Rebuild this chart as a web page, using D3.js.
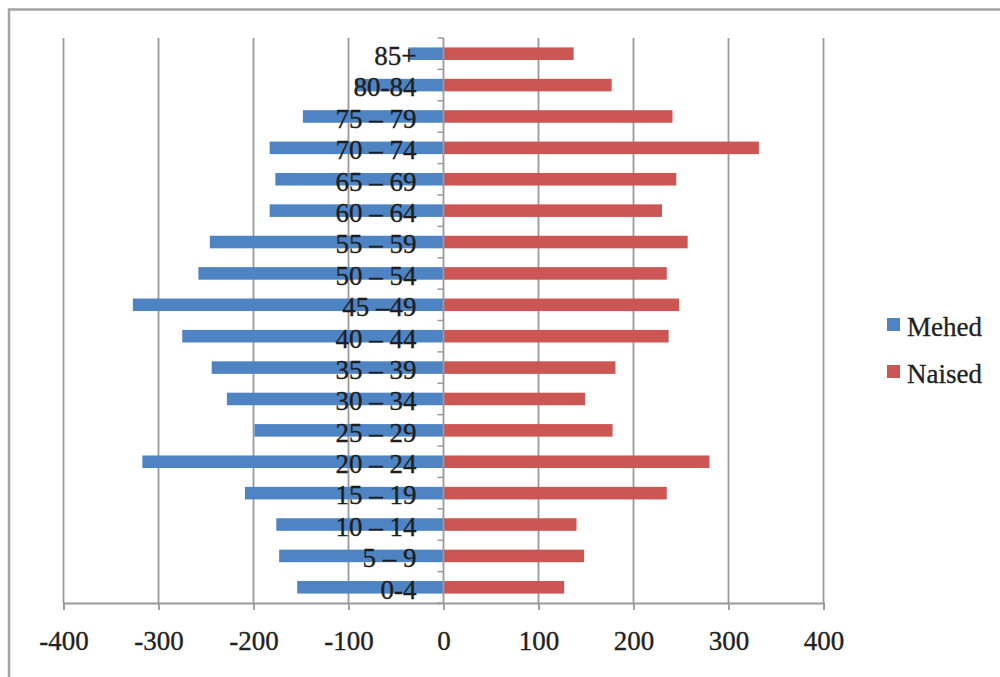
<!DOCTYPE html>
<html>
<head>
<meta charset="utf-8">
<script src="https://cdn.jsdelivr.net/npm/d3@7"></script>
<style>
  html, body { margin: 0; padding: 0; background: #fff; }
  svg { display: block; }
  text { font-family: "Liberation Serif", "DejaVu Serif", serif; }
</style>
</head>
<body>
<svg id="chart" width="1000" height="677"></svg>
<script>
// Age groups, bottom to top
const ageGroups = ["0-4", "5 – 9", "10 – 14", "15 – 19", "20 – 24", "25 – 29", "30 – 34",
  "35 – 39", "40 – 44", "45 –49", "50 – 54", "55 – 59", "60 – 64", "65 – 69",
  "70 – 74", "75 – 79", "80-84", "85+"];

// Men (plotted to the left as negative values)
const mehed = [-154, -173, -176, -209, -317, -199, -228, -244, -275, -327,
  -258, -246, -183, -177, -183, -148, -93, -37];

// Women
const naised = [127, 148, 140, 235, 280, 178, 149, 181, 237, 248,
  235, 257, 230, 245, 332, 241, 177, 137];

const xTicks = [-400, -300, -200, -100, 0, 100, 200, 300, 400];
const seriesNames = ["Mehed", "Naised"];
const seriesColors = ["#4f84c4", "#cb5653"];

const svg = d3.select("#chart");

// Outer frame
svg.append("rect")
  .attr("x", 9).attr("y", 9.5)
  .attr("width", 1200).attr("height", 900)
  .attr("fill", "none")
  .attr("stroke", "#a3a3a3")
  .attr("stroke-width", 2.5);

const plot = { left: 63.5, right: 823.5, top: 38, bottom: 603 };

const x = d3.scaleLinear().domain([-400, 400]).range([plot.left, plot.right]);
const y = d3.scaleBand()
  .domain(ageGroups.slice().reverse())
  .range([plot.top, plot.bottom])
  .paddingInner(0.6)
  .paddingOuter(0.3);

// Vertical gridlines
svg.append("g")
  .selectAll("line")
  .data(xTicks.filter(d => d !== 0))
  .join("line")
  .attr("x1", d => x(d)).attr("x2", d => x(d))
  .attr("y1", plot.top).attr("y2", plot.bottom)
  .attr("stroke", "#9a9a9a")
  .attr("stroke-width", 1.8);

// Bottom value axis (plain hyphen for negatives)
const xAxis = d3.axisBottom(x)
  .tickValues(xTicks)
  .tickSize(7)
  .tickPadding(21)
  .tickFormat(d => String(d));

const gx = svg.append("g")
  .attr("transform", `translate(0,${plot.bottom})`)
  .call(xAxis);
gx.select(".domain").attr("stroke", "#9a9a9a").attr("stroke-width", 1.8);
gx.selectAll(".tick line").attr("stroke", "#9a9a9a").attr("stroke-width", 1.8);
gx.selectAll(".tick text")
  .attr("fill", "#222")
  .attr("stroke", "#222")
  .attr("stroke-width", 0.35)
  .style("font-size", "27px")
  .style("font-family", "'Liberation Serif', serif");

// Bars
const rowData = ageGroups.map((g, i) => ({ g, m: mehed[i], n: naised[i] }));

svg.append("g")
  .selectAll("rect")
  .data(rowData)
  .join("rect")
  .attr("x", d => x(d.m))
  .attr("y", d => y(d.g))
  .attr("width", d => x(0) - x(d.m))
  .attr("height", y.bandwidth())
  .attr("fill", seriesColors[0]);

svg.append("g")
  .selectAll("rect")
  .data(rowData)
  .join("rect")
  .attr("x", x(0))
  .attr("y", d => y(d.g))
  .attr("width", d => x(d.n) - x(0))
  .attr("height", y.bandwidth())
  .attr("fill", seriesColors[1]);

// Category axis at zero, ticks on band boundaries
const gy = svg.append("g").attr("transform", `translate(${x(0)},0)`);
gy.append("line")
  .attr("x1", 0).attr("x2", 0)
  .attr("y1", plot.top).attr("y2", plot.bottom)
  .attr("stroke", "#9a9a9a").attr("stroke-width", 1.8);
const boundaries = d3.range(ageGroups.length + 1).map(i => plot.top + i * y.step());
gy.selectAll("line.tk")
  .data(boundaries)
  .join("line")
  .attr("class", "tk")
  .attr("x1", -6).attr("x2", 0)
  .attr("y1", d => d).attr("y2", d => d)
  .attr("stroke", "#9a9a9a").attr("stroke-width", 1.5);

// Category labels drawn over the bars
gy.selectAll("text")
  .data(ageGroups)
  .join("text")
  .attr("x", -27)
  .attr("y", d => y(d) + y.bandwidth() / 2)
  .attr("dy", "0.42em")
  .attr("text-anchor", "end")
  .attr("fill", "#1e1e1e")
  .attr("stroke", "#1e1e1e")
  .attr("stroke-width", 0.35)
  .style("font-size", "27px")
  .text(d => d);

// Legend
const legend = svg.append("g").attr("transform", "translate(887,318)");
const item = legend.selectAll("g")
  .data(seriesNames)
  .join("g")
  .attr("transform", (d, i) => `translate(0,${i * 47})`);
item.append("rect")
  .attr("width", 13).attr("height", 13)
  .attr("fill", (d, i) => seriesColors[i]);
item.append("text")
  .attr("x", 20).attr("y", 7)
  .attr("dy", "0.4em")
  .attr("fill", "#222")
  .attr("stroke", "#222")
  .attr("stroke-width", 0.3)
  .style("font-size", "27px")
  .text(d => d);
</script>
</body>
</html>
